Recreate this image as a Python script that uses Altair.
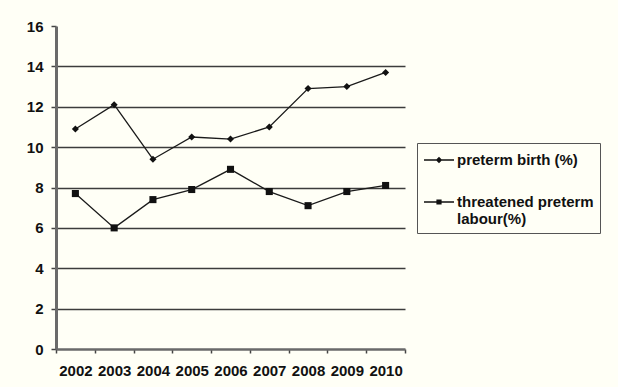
import altair as alt
import pandas as pd

years = ["2002", "2003", "2004", "2005", "2006", "2007", "2008", "2009", "2010"]
preterm_birth = [10.9, 12.1, 9.4, 10.5, 10.4, 11.0, 12.9, 13.0, 13.7]
threatened_labour = [7.7, 6.0, 7.4, 7.9, 8.9, 7.8, 7.1, 7.8, 8.1]
series_names = ["preterm birth (%)", "threatened preterm labour(%)"]
marker_shapes = ["diamond", "square"]
y_ticks = [0, 2, 4, 6, 8, 10, 12, 14, 16]

rows = []
for name, values in zip(series_names, [preterm_birth, threatened_labour]):
    for yr, v in zip(years, values):
        rows.append({"year": yr, "value": v, "series": name})
df = pd.DataFrame(rows)

FONT = "Liberation Sans"
INK = "#111111"
PLOT_BG = "#c1c0b9"

x_enc = alt.X(
    "year:O",
    sort=years,
    scale=alt.Scale(type="band", paddingInner=0, paddingOuter=0),
    axis=alt.Axis(
        title=None, labelAngle=0, tickBand="extent", tickSize=4, labelPadding=10,
        labelFont=FONT, labelFontSize=15, labelFontWeight="bold", labelColor=INK,
        domainColor="#6a6a6a", domainWidth=2.5, tickColor="#444444", tickWidth=1.5,
        grid=False,
    ),
)
y_enc = alt.Y(
    "value:Q",
    scale=alt.Scale(domain=[0, 16], nice=False),
    axis=alt.Axis(
        title=None, values=y_ticks, tickSize=5, labelPadding=8,
        labelFont=FONT, labelFontSize=15, labelFontWeight="bold", labelColor=INK,
        domainColor="#6a6a6a", domainWidth=3, tickColor="#444444", tickWidth=1.5,
        grid=True, gridColor="#3c3c3c", gridWidth=1.6,
        gridOpacity={"condition": {"test": "datum.value == 16 || datum.value == 0", "value": 0}, "value": 1},
    ),
)

base = alt.Chart(df)

lines = base.mark_line(color="#1a1a1a", strokeWidth=1.3).encode(
    x=x_enc, y=y_enc, detail="series:N"
)

# one marker layer per series
marker_layers = [
    base.transform_filter(alt.datum.series == name)
    .mark_point(filled=True, shape=shp, size=50, color=INK, opacity=1)
    .encode(x=x_enc, y=y_enc)
    for name, shp in zip(series_names, marker_shapes)
]

# legend-only layer: no rows; each key is a thin bar with the series marker on it.
# Zero-area segments keep the second key's bounds as tall as its two-line label.
legend_paths = [
    "M-1.5,-0.065H1.5V0.065H-1.5ZM0,-0.32L0.32,0L0,0.32L-0.32,0Z",
    "M-1.5,-0.065H1.5V0.065H-1.5ZM-0.26,-0.26H0.26V0.26H-0.26Z"
    "M-0.01,1.06H0.01ZM-0.01,-1.06H0.01Z",
]
legend_layer = base.transform_filter("false").mark_point(
    filled=True, color=INK, opacity=1
).encode(
    shape=alt.Shape(
        "series:N",
        scale=alt.Scale(domain=series_names, range=legend_paths),
        legend=alt.Legend(
            title=None, orient="none", legendX=361, legendY=117,
            padding=6, symbolSize=400, symbolOffset=5, labelOffset=7, rowPadding=20,
            symbolFillColor=INK,
            labelFont=FONT, labelFontSize=15, labelFontWeight="bold", labelColor=INK,
            labelLimit=300,
            labelExpr="datum.label == 'threatened preterm labour(%)' ? ['threatened preterm', 'labour(%)'] : datum.label",
            strokeColor="#555555", fillColor="#fffff6",
        ),
    )
)

chart = (
    alt.layer(lines, *marker_layers, legend_layer)
    .properties(
        width=349, height=323,
        autosize=alt.AutoSizeParams(type="none"),
        padding={"left": 56, "top": 26, "right": 213, "bottom": 38},
        background="#fffff6",
    )
    .configure_view(fill=PLOT_BG, strokeWidth=0)
)

chart.save("out.html", embed_options={"renderer": "svg", "actions": False})
